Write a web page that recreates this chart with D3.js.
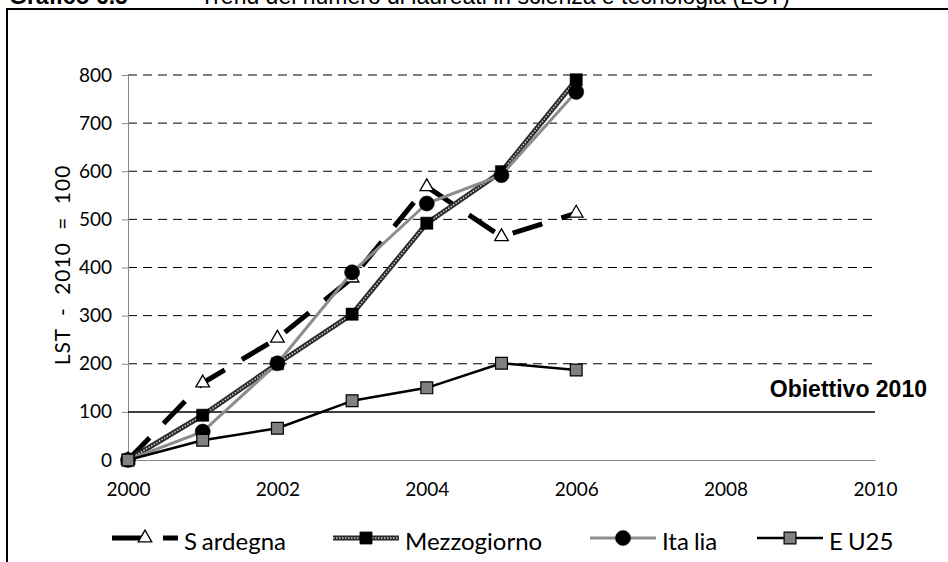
<!DOCTYPE html>
<html>
<head>
<meta charset="utf-8">
<script src="https://cdn.jsdelivr.net/npm/d3@7"></script>
<style>
  body { margin: 0; background: #fff; }
  svg { display: block; }
</style>
</head>
<body>
<svg id="chart" width="948" height="562"></svg>
<script>
// Graduates in science and technology, index LST (2010 = 100)
const years = [2000, 2001, 2002, 2003, 2004, 2005, 2006];
const sardegna    = [0, 160, 253, 378, 568, 464, 513];
const mezzogiorno = [0, 93, 200, 303, 492, 599, 790];
const italia      = [0, 59, 201, 390, 533, 592, 765];
const eu25        = [0, 41, 66, 123, 150, 201, 187];
const seriesNames = ["Sardegna", "Mezzogiorno", "Italia", "EU25"];
const xTicks = [2000, 2002, 2004, 2006, 2008, 2010];
const yTicks = [0, 100, 200, 300, 400, 500, 600, 700, 800];
const targetValue = 100;
const targetLabel = "Obiettivo 2010";
const yTitle = "LST - 2010 = 100";
const chartNumber = "Grafico 6.5";
const chartTitle = "Trend del numero di laureati in scienza e tecnologia (LST)";

const seriesValues = [sardegna, mezzogiorno, italia, eu25];
const series = seriesNames.map((name, i) => ({
  name,
  points: years.map((y, j) => ({ year: y, value: seriesValues[i][j] }))
}));

const svg = d3.select("#chart");
const tickFont = "Lato, Carlito, Calibri, sans-serif";

const x = d3.scaleLinear().domain([2000, 2010]).range([128, 875]);
const y = d3.scaleLinear().domain([0, 800]).range([460, 75]);

// Heading (runs off the top edge of the page) and frame
svg.append("text")
  .attr("x", 9).attr("y", 4)
  .attr("font-family", "Liberation Sans, Arial, sans-serif")
  .attr("font-size", 23).attr("font-weight", "bold")
  .text(chartNumber);
svg.append("text")
  .attr("x", 200).attr("y", 4)
  .attr("font-family", "Liberation Sans, Arial, sans-serif")
  .attr("font-size", 23)
  .text(chartTitle);
svg.append("rect")
  .attr("x", 7).attr("y", 9).attr("width", 960).attr("height", 600)
  .attr("fill", "none").attr("stroke", "#000").attr("stroke-width", 2);

// Dashed gridlines
svg.append("g")
  .selectAll("line")
  .data(yTicks.filter(v => v > 0 && v !== targetValue))
  .join("line")
  .attr("x1", x.range()[0]).attr("x2", x.range()[1])
  .attr("y1", d => y(d)).attr("y2", d => y(d))
  .attr("stroke", "#000").attr("stroke-width", 1)
  .attr("stroke-dasharray", "9,6");

// Y axis
const yAxis = svg.append("g")
  .attr("transform", `translate(${x.range()[0]},0)`)
  .call(d3.axisLeft(y).tickValues(yTicks).tickSize(6).tickPadding(10).tickSizeOuter(0));
yAxis.select(".domain").attr("stroke", "#888");
yAxis.selectAll(".tick line").attr("stroke", "#888");
yAxis.selectAll(".tick text")
  .attr("font-family", tickFont).attr("font-size", 19).attr("fill", "#000");

// X axis
const xAxis = svg.append("g")
  .attr("transform", `translate(0,${y(0)})`)
  .call(d3.axisBottom(x).tickValues(xTicks).tickFormat(d3.format("d"))
    .tickSize(0).tickPadding(23).tickSizeOuter(0));
xAxis.select(".domain").attr("stroke", "#888");
xAxis.selectAll(".tick text")
  .attr("font-family", tickFont).attr("font-size", 19).attr("fill", "#000");

// Target line
svg.append("line")
  .attr("x1", x.range()[0]).attr("x2", x.range()[1])
  .attr("y1", y(targetValue)).attr("y2", y(targetValue))
  .attr("stroke", "#000").attr("stroke-width", 1.5);
svg.append("text")
  .attr("x", 927).attr("y", y(targetValue) - 15)
  .attr("text-anchor", "end")
  .attr("font-family", "Liberation Sans, Arial, sans-serif")
  .attr("font-size", 23).attr("font-weight", "bold")
  .text(targetLabel);

// Y axis title
svg.append("text")
  .attr("transform", `translate(70,${265}) rotate(-90)`)
  .attr("text-anchor", "middle")
  .attr("font-family", tickFont).attr("font-size", 21)
  .attr("word-spacing", 6).attr("letter-spacing", 1)
  .text(yTitle);

// Series styles
const styles = {
  Sardegna:    { layers: [{ stroke: "#000", width: 5, dash: "31,20" }],
                 marker: d3.symbolTriangle, size: 80, fill: "#fff", outline: "#000", ow: 1.3 },
  Mezzogiorno: { layers: [{ stroke: "#2a2a2a", width: 5 }, { stroke: "#d0d0d0", width: 1.5, dash: "1.5,1.5" }],
                 marker: d3.symbolSquare, size: 150, fill: "#000", outline: "#000", ow: 0.5 },
  Italia:      { layers: [{ stroke: "#8c8c8c", width: 3 }],
                 marker: d3.symbolCircle, size: 180, fill: "#000", outline: "#000", ow: 0.5 },
  EU25:        { layers: [{ stroke: "#000", width: 2.5 }],
                 marker: d3.symbolSquare, size: 140, fill: "#808080", outline: "#000", ow: 1.2 }
};

const line = d3.line().x(d => x(d.year)).y(d => y(d.value));

const sg = svg.append("g").selectAll("g").data(series).join("g");
sg.each(function (s) {
  const g = d3.select(this);
  const st = styles[s.name];
  st.layers.forEach(l => {
    g.append("path").datum(s.points)
      .attr("d", line).attr("fill", "none")
      .attr("stroke", l.stroke).attr("stroke-width", l.width)
      .attr("stroke-dasharray", l.dash || null)
      .attr("stroke-linejoin", "round");
  });
  g.selectAll("path.mk").data(s.points).join("path")
    .attr("class", "mk")
    .attr("transform", d => `translate(${x(d.year)},${y(d.value)})`)
    .attr("d", d3.symbol(st.marker, st.size))
    .attr("fill", st.fill).attr("stroke", st.outline).attr("stroke-width", st.ow);
});

// Legend
const legendY = 538;
const legendStarts = [112, 333, 590, 757];
const legendLen = 66;
const legendGaps = { Sardegna: 1, Italia: 3, EU25: 1 };
const lg = svg.append("g").selectAll("g").data(seriesNames).join("g")
  .attr("transform", (d, i) => `translate(${legendStarts[i]},${legendY})`);
lg.each(function (name) {
  const g = d3.select(this);
  const st = styles[name];
  st.layers.forEach(l => {
    g.append("line").attr("x1", 0).attr("x2", legendLen).attr("y1", 0).attr("y2", 0)
      .attr("stroke", l.stroke).attr("stroke-width", l.width)
      .attr("stroke-dasharray", l.dash || null);
  });
  g.append("path")
    .attr("transform", `translate(${legendLen / 2},0)`)
    .attr("d", d3.symbol(st.marker, st.size))
    .attr("fill", st.fill).attr("stroke", st.outline).attr("stroke-width", st.ow);
  const t = g.append("text").attr("x", legendLen + 6).attr("y", 12)
    .attr("font-family", tickFont).attr("font-size", 24);
  const cut = legendGaps[name];
  if (cut) {
    t.append("tspan").text(name.slice(0, cut));
    t.append("tspan").attr("dx", 5).text(name.slice(cut));
  } else {
    t.text(name);
  }
});
</script>
</body>
</html>
